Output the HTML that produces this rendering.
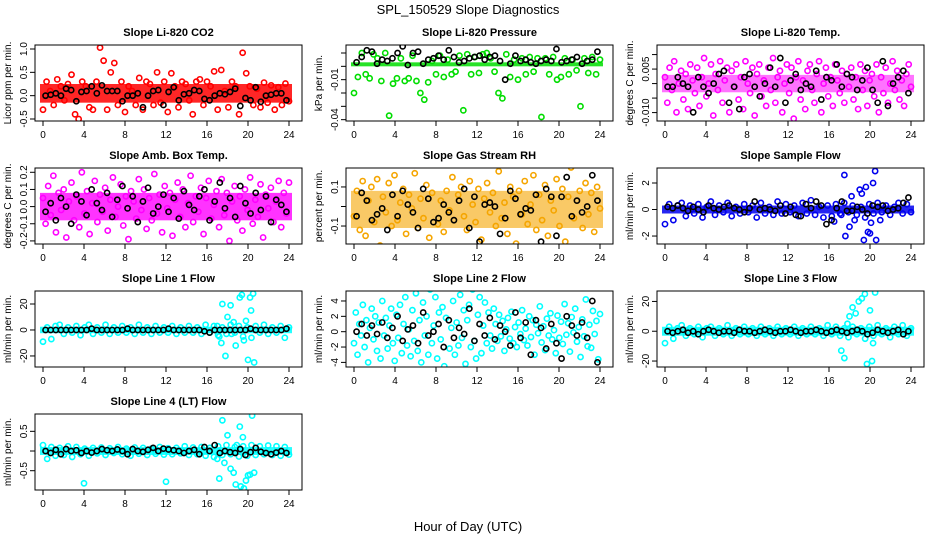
<!DOCTYPE html>
<html><head><meta charset="utf-8">
<style>
html,body{margin:0;padding:0;background:#fff;}
svg{display:block;font-family:"Liberation Sans",Helvetica,sans-serif;}
</style></head>
<body>
<svg id="chart" width="936" height="540" viewBox="0 0 936 540" xmlns="http://www.w3.org/2000/svg">
<text x="468" y="14" font-size="13" text-anchor="middle">SPL_150529  Slope Diagnostics</text>
<text x="468" y="531" font-size="13" text-anchor="middle">Hour of Day (UTC)</text>
</svg>
<script>
// ---- data ----
const xTicks = [0,4,8,12,16,20,24];
const halfHours = [0.25,0.75,1.25,1.75,2.25,2.75,3.25,3.75,4.25,4.75,5.25,5.75,6.25,6.75,7.25,7.75,8.25,8.75,9.25,9.75,10.25,10.75,11.25,11.75,12.25,12.75,13.25,13.75,14.25,14.75,15.25,15.75,16.25,16.75,17.25,17.75,18.25,18.75,19.25,19.75,20.25,20.75,21.25,21.75,22.25,22.75,23.25,23.75];

const titles = ["Slope Li-820 CO2","Slope Li-820 Pressure","Slope Li-820 Temp.","Slope Amb. Box Temp.","Slope Gas Stream RH","Slope Sample Flow","Slope Line 1 Flow","Slope Line 2 Flow","Slope Line 3 Flow","Slope Line 4 (LT) Flow"];
const yTitles = ["Licor ppm per min.","kPa per min.","degrees C per min.","degrees C per min.","percent per min.","ml/min per min.","ml/min per min.","ml/min per min.","ml/min per min.","ml/min per min."];
const colors = ["#ff0000","#00dd00","#ff00ff","#ff00ff","#f5a500","#0000ee","#00ffff","#00ffff","#00ffff","#00ffff"];
const yMin = [-0.543,-0.041,-0.0129,-0.218,-0.192,-2.6,-28.5,-4.6,-24,-0.99];
const yMax = [1.086,0.016,0.0133,0.225,0.197,3.13,30,5.3,27,0.94];
const yTickVals = [[-0.5,0,0.5,1.0],[-0.04,-0.01],[-0.010,0.005],[-0.2,-0.1,0.0,0.1,0.2],[-0.1,0.1],[-2,0,2],[-20,0,20],[-4,-2,0,2,4],[-20,0,20],[-0.5,0.5]];
const yTickLabels = [["-0.5","0.0","0.5","1.0"],["-0.04","-0.01"],["-0.010","0.005"],["-0.2","-0.1","0.0","0.1","0.2"],["-0.1","0.1"],["-2","0","2"],["-20","0","20"],["-4","-2","0","2","4"],["-20","0","20"],["-0.5","0.5"]];
const yMinor = [[],[-0.03,-0.02,0,0.01],[-0.005,0,0.01],[],[0],[],[],[],[],[0]];
// dense core band (low/high) of each coloured series
const bandLo = [-0.15,0,-0.003,-0.08,-0.11,-0.3,-2.5,0,-3,-0.1];
const bandHi = [0.25,0.003,0.003,0.08,0.08,0.3,2.5,0,3,0.1];
const bandOpacity = [0.85,0.85,0.55,0.8,0.6,0.85,0.85,0,0.85,0.85];
// scale factors for compactly typed series
const unit = [0.01,0.001,0.0011,0.01,0.01,0.1,1,0.1,1,0.01];

// coloured series (uniformly spaced over the day)
const co2Color = [-30,30,10,-20,35,20,-10,25,45,-40,-50,30,20,-25,-30,30,103,75,-30,50,70,-20,30,-35,20,10,-20,38,-30,30,25,-20,50,-15,30,-35,48,20,-25,30,25,-10,-40,30,35,-20,30,20,52,-30,55,10,-25,30,20,-40,92,48,20,-20,15,-25,28,-15,22,-30,18,-20,26,-12];
const presColor = [-20,-8,10,-6,-9,9,6,-11,10,-37,-13,-9,6,-11,-9,8,-11,-20,-25,-12,4,-6,8,-8,5,-6,-4,8,-33,9,-6,7,-5,9,10,6,-4,-20,-24,9,-8,5,-10,6,-6,7,-4,6,-38,6,-6,7,-10,-8,6,-6,5,-3,-30,6,-5,7,-6,5];
const tempColor = [2,-6,5,-2,7,-9,0,4,-5,3,-8,6,1,-3,5,-7,2,8,-4,0,6,-10,3,-2,7,-6,1,5,-9,4,-1,6,-5,2,-8,7,0,-3,5,-10,3,6,-4,1,-7,5,-2,8,-6,2,4,-9,0,6,-3,5,-11,2,7,-5,1,-8,4,6,-2,-6,3,7,-9,0,5,-4,2,-7,6,1,-3,4,-6,3,-1,5,-5,2,-8,6,-2,4,-7,1,3,-4,6,-9,2,-3,5,-6,0,7,-2,4,-5,1,-7,3,6,-1];
const boxColor = [5,-10,12,-5,18,-15,8,-2,10,-18,3,14,-8,6,-12,20,-4,9,-16,2,15,-9,7,-3,11,-14,4,17,-6,0,13,-11,6,-19,9,3,-7,16,-2,10,-13,5,-8,19,-4,7,-15,12,-1,8,-17,4,14,-6,10,-12,2,18,-9,6,-3,11,-16,5,15,-7,1,9,-12,16,-5,8,-20,3,12,-8,6,-14,10,-2,17,-10,4,-6,13,-18,7,-1,11,-9,3,15,-12,8,-4,14];
const rhColor = [-5,8,-12,13,-15,3,10,-8,14,-20,5,-3,12,-10,16,-7,2,9,-14,6,-1,17,-11,4,-6,11,-16,7,22,-9,3,-13,8,-2,15,-22,6,10,-5,-12,13,1,-8,9,-17,4,12,-3,7,-10,18,-6,2,-14,10,5,-19,8,-4,13,-9,1,16,-12,6,-7,11,-15,3,-2,14,-10,9,-18,5,20,-6,-21,8,-11,12,-4,7,-13,10,-1];
const flowColor = [-11,4,-8,3,5,-5,3,-3,4,-6,2,6,-4,3,-2,5,-5,2,-3,4,-2,3,-6,5,-3,2,-4,6,-3,4,-2,3,-5,5,-3,7,-4,2,-6,3,-5,4,-3,5,-2,3,-4,2,-6,4,-3,5,-2,3,-4,2,5,-3,4,-2];
const l1Color = [-9,2,-7,3,4,-3,2,-2,3,-4,2,4,-3,2,-2,4,-3,2,-2,3,-2,2,-3,4,-2,2,-3,3,-2,2,-2,3,-3,2,-2,3,-2,2,-3,4,-2,3,-4,2,-3,4,-2,3,-5,2,-6,3,-2,4,-3,2,-2,3,-6,2];
const l2Color = [-15,25,-30,10,-5,35,-20,15,-40,5,30,-10,20,-25,12,-35,40,-5,18,-22,8,30,-15,-38,22,-8,35,-28,10,45,-18,3,-32,28,-12,50,-25,15,-40,38,-5,20,-30,55,-15,8,45,-35,25,-10,32,-45,18,60,-22,5,40,-30,12,-18,48,-8,28,-42,15,35,-20,55,-12,-35,22,45,-28,8,38,-15,25,-5,-22,30,
  10,-12,22,-6,14,-25,3,18,-9,26,-15,6,-20,12,-3,28,-11,4,-18,20,-7,15,-30,9,-2,33,-14,7,-24,17,-5,24,-10,2,-28,21,-8,13,-16,36,-4,11,-26,19,-1,30,-13,6,-33,16,-6,42,-19,9,-21,27,-3,14,-36,23];
const l3Color = [-8,3,-5,2,4,-3,2,-2,3,-4,2,3,-3,2,-2,4,-3,2,-2,3,-2,2,-3,3,-2,2,-3,3,-2,2,-2,3,-3,2,-2,3,-2,2,-3,4,-2,3,-3,2,-4,3,-2,2,-5,3,-3,4,-2,2,-4,3,-2,4,-3,2];
const l4Color = [15,-20,10,-12,8,-10,12,-15,10,-8,6,-12,8,-6,9,-10,7,-5,10,-8,6,-12,9,-7,8,-10,6,-7,10,-9,7,-8,8,-6,12,-10,9,-8,10,-12,8,-15,12,-10,15,-8,10,-14,12,-12,15,-10,12,-8,14,-10,12,-12,10,-9];
const colorSeries = [co2Color,presColor,tempColor,boxColor,rhColor,flowColor,l1Color,l2Color,l3Color,l4Color];

// outlier points with explicit hours (flow panels)
const flowOutH = [17.5,17.6,18,18.2,18.5,19,19.2,19.4,19.6,19.8,20,20.1,20.3,20.5,20.6,21,16.5,17.2];
const flowOutV = [26,-20,-13,10,-8,15,12,-23,17,-17,-18,-10,20,29,-23,-8,-9,-4];
const l1OutH = [17.2,17.4,17.5,17.8,18,18.3,18.6,18.8,19.2,19.4,19.6,19.8,20,20.2,20.3,20.5,20.6,17,18.4];
const l1OutV = [-5,-10,20,-20,10,19,6,-12,25,27,-8,7,-23,25,15,28,-25,3,-3];
const l3OutH = [17.2,17.5,17.8,18,18.3,18.6,18.9,19.2,19.5,19.7,20,20.3,20.5,20.2];
const l3OutV = [-13,-18,5,10,16,12,20,22,25,-22,14,-8,26,-20];
const l4OutH = [4,12,17.2,17.5,17.7,18,18.3,18.6,18.9,19.2,19.3,19.5,19.6,19.8,20,20.2,20.4,20.6,17,18.8];
const l4OutV = [-82,-78,-70,78,-30,40,-45,-55,15,62,-90,35,-95,-75,-62,-60,90,-55,-20,-85];
const outHours = [[],[],[],[],[],flowOutH,l1OutH,[],l3OutH,l4OutH];
const outValues = [[],[],[],[],[],flowOutV,l1OutV,[],l3OutV,l4OutV];

// black (half-hourly) series
const co2Black = [0,2,5,0,15,12,-12,8,10,20,5,22,10,10,10,-12,0,0,5,-25,0,10,12,-20,8,18,-10,3,5,12,10,-7,-10,0,5,3,8,15,-22,-5,-10,18,-13,0,2,5,5,-10];
const presBlack = [3,7,12,11,2,5,4,6,10,15,1,10,11,2,5,6,8,5,12,7,3,4,6,7,8,5,7,8,4,-10,2,8,4,5,3,2,4,5,4,13,3,4,5,7,2,4,5,11];
const tempBlack = [-1,-1,2,0,-1,-9,2,-1,-3,0,3,4,-6,-1,-8,2,3,-1,-4,0,5,-1,8,-6,1,3,-2,0,-1,4,-5,2,1,6,-1,3,2,-2,1,5,-2,-6,7,-7,0,2,4,-3];
const boxBlack = [-3,2,-8,5,0,-10,7,3,-5,10,2,-2,8,-6,4,12,-1,6,-9,3,11,-4,0,7,-3,5,-7,9,1,-2,6,10,-8,3,14,-1,5,-6,12,2,-4,8,-2,6,-9,4,1,-3];
const rhBlack = [-5,7,3,-7,-4,-1,-12,6,-5,8,1,-3,-11,9,4,-8,-6,1,-3,-7,3,9,-11,5,-18,1,2,0,-14,-6,8,4,-4,-1,-2,6,-18,9,5,-15,5,15,-5,3,-3,0,16,3];
const flowBlack = [2,1,3,1,-1,2,0,-2,3,1,0,2,3,1,0,-2,1,6,0,1,0,-1,3,-3,2,-4,-5,4,1,6,3,-11,-8,1,6,-1,-1,2,0,-3,3,2,3,-1,0,1,5,9];
const l1Black = [0,0,0,0,0,0,0,0,0,1,0,0,0,0,0,0,1,0,0,0,0,0,0,0,1,0,0,0,0,0,0,-1,-2,0,0,0,0,0,0,0,1,0,0,0,0,0,0,1];
const l2Black = [0,10,-5,8,-3,12,-8,5,20,-12,3,8,-15,25,-5,0,10,-20,15,-8,5,-3,30,-12,10,-5,18,-10,8,0,-18,25,-8,12,-30,15,5,-22,10,-15,-35,20,8,-5,12,-8,40,-40];
const l3Black = [0,-1,0,1,-1,0,-2,0,1,0,-1,0,0,-1,1,0,0,-1,0,1,0,-1,0,0,1,0,-1,0,0,1,0,-1,0,1,0,-1,0,1,0,-2,-1,1,0,-1,0,1,-2,0];
const l4Black = [0,-5,3,-8,5,0,2,-5,0,-4,0,5,2,0,4,0,-8,5,0,-2,3,8,0,6,4,2,0,-5,0,3,-8,10,0,15,-5,0,-3,-5,5,-10,-3,8,-2,-5,-8,-4,0,-5];
const blackSeries = [co2Black,presBlack,tempBlack,boxBlack,rhBlack,flowBlack,l1Black,l2Black,l3Black,l4Black];

// ---- layout ----
const svg = document.getElementById('chart');
const NS = 'http://www.w3.org/2000/svg';
const colLeft = [35,346,657], rowTop = [45,168,291,414], W = 267, H = 76;
function mk(tag, attrs, parent){
  const e = document.createElementNS(NS, tag);
  for (const k in attrs) e.setAttribute(k, attrs[k]);
  parent.appendChild(e);
  return e;
}

for (let p = 0; p < 10; p++) {
  const L = colLeft[p % 3], T = rowTop[Math.floor(p / 3)];
  const xs = h => L + 8 + h / 24 * 246;
  const ys = v => T + H - (v - yMin[p]) / (yMax[p] - yMin[p]) * H;
  const g = mk('g', {}, svg);
  
  
  const clipId = 'clip' + p;
  const cp = mk('clipPath', {id: clipId}, g);
  mk('rect', {x: L, y: T, width: W, height: H}, cp);

  const tt = mk('text', {x: L + W / 2, y: T - 9, 'font-size': 11, 'font-weight': 'bold', 'text-anchor': 'middle'}, g);
  
  
  tt.textContent = titles[p];

  const yt = mk('text', {x: 0, y: 0, 'font-size': 10, 'text-anchor': 'middle', transform: `translate(${L - 24},${T + H / 2}) rotate(-90)`}, g);
  
  
  yt.textContent = yTitles[p];

  // points
  const pg = mk('g', {'clip-path': `url(#${clipId})`}, g);
  const u = unit[p];
  if (bandHi[p] > bandLo[p]) {
    const b = mk('rect', {x: xs(0) - 3, y: ys(bandHi[p]), width: xs(24) - xs(0) + 6, height: ys(bandLo[p]) - ys(bandHi[p]), fill: colors[p], opacity: bandOpacity[p]}, pg);
    
    
  }
  const cs = colorSeries[p];
  cs.forEach((v, i) => {
    const h = i * 24 / (cs.length - 1);
    const c = mk('circle', {cx: xs(h), cy: ys(v * u), r: 2.6, fill: 'none', stroke: colors[p], 'stroke-width': 1.6}, pg);
    
    
  });
  outHours[p].forEach((h, i) => {
    const c = mk('circle', {cx: xs(h), cy: ys(outValues[p][i] * u), r: 2.6, fill: 'none', stroke: colors[p], 'stroke-width': 1.6}, pg);
    
    
  });
  const bs = blackSeries[p];
  bs.forEach((v, i) => {
    const c = mk('circle', {cx: xs(halfHours[i]), cy: ys(v * u), r: 2.6, fill: 'none', stroke: '#000', 'stroke-width': 1.6}, pg);
    
    
  });

  // box
  const box = mk('rect', {x: L, y: T, width: W, height: H, fill: 'none', stroke: '#000', 'stroke-width': 1}, g);
  
  

  // x axis
  xTicks.forEach(h => {
    mk('line', {x1: xs(h), x2: xs(h), y1: T + H, y2: T + H + 5, stroke: '#000'}, g);
    const t = mk('text', {x: xs(h), y: T + H + 17, 'font-size': 10, 'text-anchor': 'middle'}, g);
    
    
    t.textContent = h;
  });
  // y axis
  yTickVals[p].forEach((v, i) => {
    mk('line', {x1: L - 5, x2: L, y1: ys(v), y2: ys(v), stroke: '#000'}, g);
    const t = mk('text', {x: 0, y: 0, 'font-size': 10, 'text-anchor': 'middle', transform: `translate(${L - 8},${ys(v)}) rotate(-90)`}, g);
    
    
    t.textContent = yTickLabels[p][i];
  });
  yMinor[p].forEach(v => {
    mk('line', {x1: L - 5, x2: L, y1: ys(v), y2: ys(v), stroke: '#000'}, g);
  });
}
</script>
</body></html>
